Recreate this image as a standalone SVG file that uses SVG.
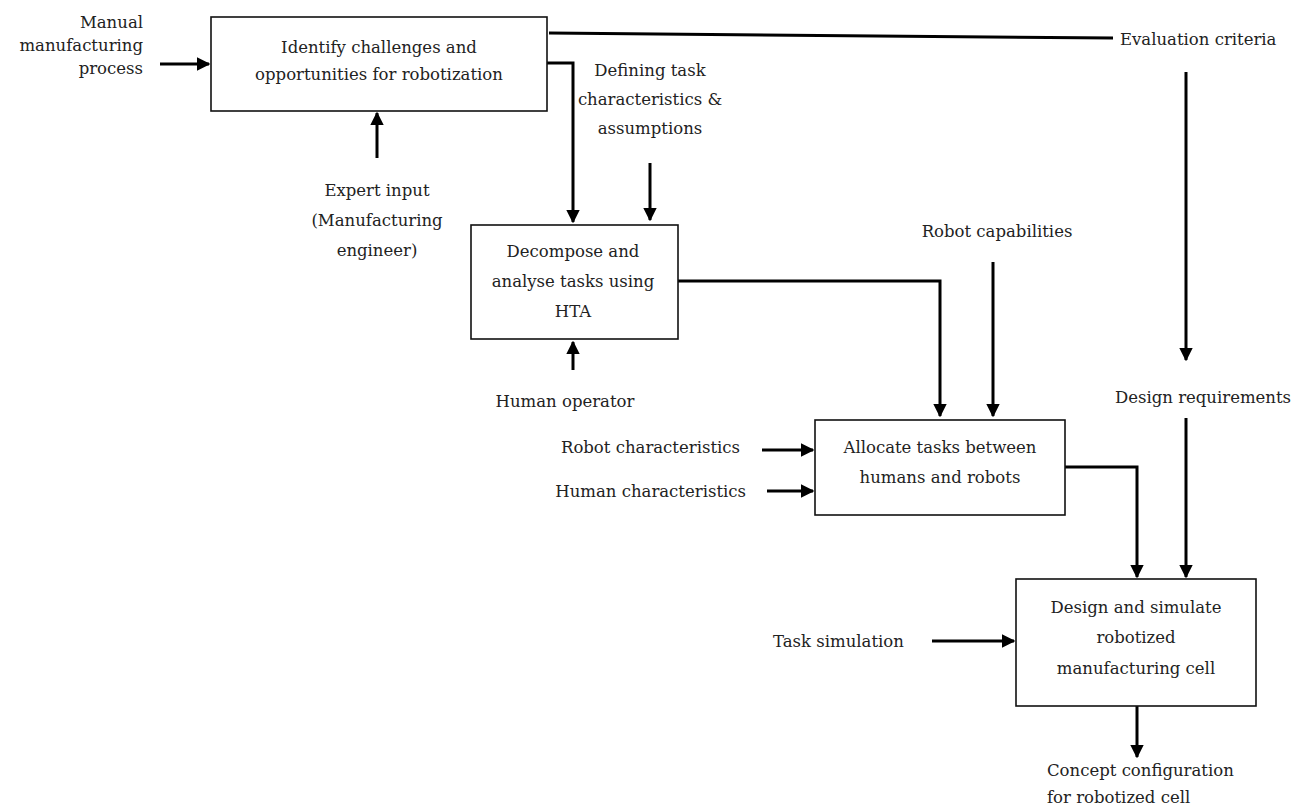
<svg xmlns="http://www.w3.org/2000/svg" width="1295" height="807" viewBox="0 0 1295 807">
<defs>
<marker id="ah" viewBox="0 0 10 10" refX="9" refY="5" markerWidth="4.5" markerHeight="4.5" markerUnits="strokeWidth" orient="auto">
<path d="M0,0 L10,5 L0,10 z" fill="#000"/>
</marker>
<style>
text{font-family:"DejaVu Serif","Liberation Serif",serif;font-size:16.5px;fill:#222}
.box{fill:#fff;stroke:#111;stroke-width:1.6}
.c{text-anchor:middle}
.r{text-anchor:end}
.con{fill:none;stroke:#000;stroke-width:3}
.arr{marker-end:url(#ah)}
</style>
</defs>
<rect width="1295" height="807" fill="#fff"/>
<g id="connectors">
<path class="con arr" d="M160,64 L209,64"/>
<path class="con" d="M549,33 L1113,38" stroke-width="3.5"/>
<path class="con arr" d="M547,63 L573,63 L573,222"/>
<path class="con arr" d="M650,163 L650,220"/>
<path class="con arr" d="M377,158 L377,113"/>
<path class="con arr" d="M1186,72 L1186,360"/>
<path class="con arr" d="M678,281 L940,281 L940,416"/>
<path class="con arr" d="M573,370 L573,342"/>
<path class="con arr" d="M993,262 L993,416"/>
<path class="con arr" d="M762,450 L813,450"/>
<path class="con arr" d="M767,491 L813,491"/>
<path class="con arr" d="M1065,467 L1137,467 L1137,577"/>
<path class="con arr" d="M1186,418 L1186,577"/>
<path class="con arr" d="M932,641 L1014,641"/>
<path class="con arr" d="M1137,706 L1137,757"/>
</g>
<g id="box1">
<rect class="box" x="211" y="17" width="336" height="94"/>
<text class="c" x="379" y="53">Identify challenges and</text>
<text class="c" x="379" y="80">opportunities for robotization</text>
</g>
<g id="box2">
<rect class="box" x="471" y="225" width="207" height="114"/>
<text class="c" x="573" y="257">Decompose and</text>
<text class="c" x="573" y="287">analyse tasks using</text>
<text class="c" x="573" y="317">HTA</text>
</g>
<g id="box3">
<rect class="box" x="815" y="420" width="250" height="95"/>
<text class="c" x="940" y="453">Allocate tasks between</text>
<text class="c" x="940" y="483">humans and robots</text>
</g>
<g id="box4">
<rect class="box" x="1016" y="579" width="240" height="127"/>
<text class="c" x="1136" y="613">Design and simulate</text>
<text class="c" x="1136" y="643">robotized</text>
<text class="c" x="1136" y="674">manufacturing cell</text>
</g>
<g id="labels">
<text class="r" x="143" y="28">Manual</text>
<text class="r" x="143" y="51">manufacturing</text>
<text class="r" x="143" y="74">process</text>
<text x="1120" y="45">Evaluation criteria</text>
<text class="c" x="650" y="76">Defining task</text>
<text class="c" x="650" y="105">characteristics &amp;</text>
<text class="c" x="650" y="134">assumptions</text>
<text class="c" x="377" y="196">Expert input</text>
<text class="c" x="377" y="226">(Manufacturing</text>
<text class="c" x="377" y="256">engineer)</text>
<text class="c" x="565" y="407">Human operator</text>
<text class="c" x="997" y="237">Robot capabilities</text>
<text class="c" x="1203" y="403">Design requirements</text>
<text class="r" x="740" y="453">Robot characteristics</text>
<text class="r" x="746" y="497">Human characteristics</text>
<text x="773" y="647">Task simulation</text>
<text x="1047" y="776">Concept configuration</text>
<text x="1047" y="803">for robotized cell</text>
</g>
</svg>
